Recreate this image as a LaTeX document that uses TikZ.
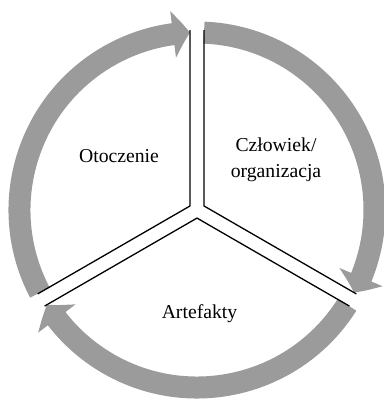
\documentclass[tikz,border=0pt]{standalone}
\usepackage{fontspec}
\setmainfont{Liberation Serif}
\usetikzlibrary{arrows.meta,bending,calc}
\definecolor{ringgray}{RGB}{155,155,155}
\begin{document}
\begin{tikzpicture}[x=1pt,y=1pt,
  ring/.style={draw=ringgray,line width=22pt},
  ringarrow/.style={ring,-{Triangle[width=46pt,length=17pt,bend]}},
  divider/.style={draw=black,line width=1.3pt,line join=miter},
  lbl/.style={font=\fontsize{19.7}{26}\selectfont,inner sep=0pt,align=center}]
\useasboundingbox (0,0) rectangle (383,-399);
\coordinate (C) at (197,-210);
\def\R{177.5}
\def\L{180}
% ring arcs (clockwise), each ending in an arrow head
\draw[ringarrow] ($(C)+(207.74:\R)$) arc[start angle=207.74,end angle=92.26,radius=\R];
\draw[ringarrow] ($(C)+(87.74:\R)$) arc[start angle=87.74,end angle=-27.74,radius=\R];
\draw[ringarrow] ($(C)+(-32.26:\R)$) arc[start angle=-32.26,end angle=-147.74,radius=\R];
% dividing double lines
\coordinate (J1) at ($(C)+(30:8.08)$);
\coordinate (J2) at ($(C)+(-90:8.08)$);
\coordinate (J3) at ($(C)+(150:8.08)$);
\coordinate (A1) at ($(C)+(90:\L)+(0:7)$);
\coordinate (B1) at ($(C)+(-30:\L)+(60:7)$);
\coordinate (A2) at ($(C)+(-30:\L)+(-120:7)$);
\coordinate (B2) at ($(C)+(210:\L)+(-60:7)$);
\coordinate (A3) at ($(C)+(210:\L)+(120:7)$);
\coordinate (B3) at ($(C)+(90:\L)+(180:7)$);
\draw[divider] (A1) -- (J1) -- (B1);
\draw[divider] (A2) -- (J2) -- (B2);
\draw[divider] (A3) -- (J3) -- (B3);
% labels
\node[lbl,anchor=base] (oto) at (119,-162) {Otoczenie};
\node[lbl] (czl) at (276,-159.5) {Człowiek/\\organizacja};
\node[lbl,anchor=base] (art) at (199.5,-318) {Artefakty};
\end{tikzpicture}
\end{document}
